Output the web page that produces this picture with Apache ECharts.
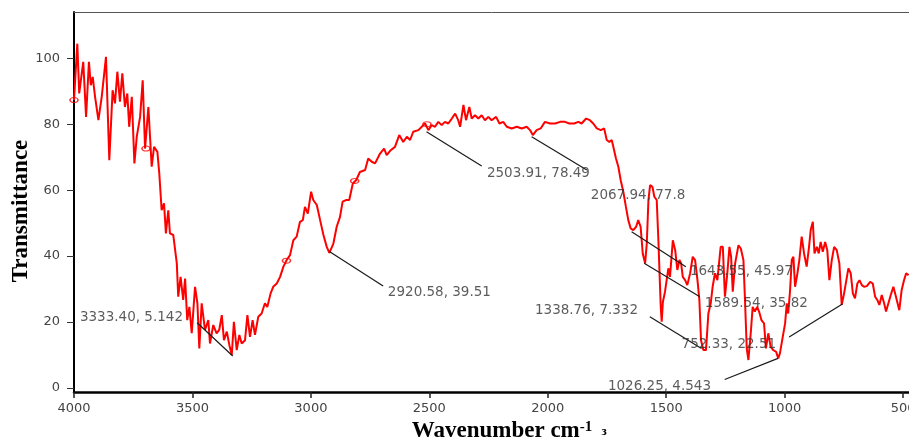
<!DOCTYPE html>
<html>
<head>
<meta charset="utf-8">
<title>FTIR spectrum</title>
<script src="https://cdn.jsdelivr.net/npm/echarts@6/dist/echarts.min.js"></script>
<style>
  html, body { margin: 0; padding: 0; background: #fff; }
  #main { width: 909px; height: 443px; }
</style>
</head>
<body>
<div id="main"></div>
<script>
// spectrum: [wavenumber, transmittance]
var spectrum = [
  [4000,87.3],[3986,104.4],[3978,89.3],[3961,98.9],[3949,82.2],[3937,98.9],[3929,91.8],[3921,94.3],
  [3911,88.3],[3897,81.2],[3883,88.3],[3865,100.4],[3851,69.1],[3837,90.3],[3827,86.3],[3817,95.9],
  [3806,86.8],[3796,95.4],[3785,85.2],[3775,89.3],[3767,79.2],[3756,88.3],[3745,68.1],[3735,76.2],
  [3721,82.2],[3710,93.3],[3700,72.6],[3686,85.2],[3672,67.1],[3662,73.1],[3648,71.6],[3640,65.1],
  [3630,53.9],[3620,56],[3612,46.9],[3602,53.9],[3595,46.9],[3581,46.4],[3566,37.8],[3560,27.7],
  [3550,33.7],[3539,26.7],[3531,33.2],[3522,20.6],[3513,24.6],[3503,16.6],[3489,30.7],[3479,25.7],
  [3471,12],[3461,25.7],[3447,17.6],[3433,20.6],[3426,13.5],[3412,19.1],[3398,16.6],[3387,17.6],
  [3376,22.1],[3367,14.5],[3355,17.1],[3344,13],[3334,10],[3325,20.1],[3313,11.5],[3302,16.1],
  [3292,13.5],[3278,14.5],[3268,22.1],[3257,15.5],
  [3246,20.6],[3236,16.1],[3222,21.6],[3208,22.6],[3194,25.7],[3184,24.6],[3170,28.7],[3159,30.7],
  [3144,31.7],[3130,33.7],[3116,36.8],[3102,38.8],[3088,40.3],[3074,44.8],[3060,45.9],[3046,50.4],
  [3034,50.9],[3025,54.9],[3013,52.9],[2999,59.5],[2990,57],[2975,55.5],[2961,50.9],[2947,46.4],
  [2933,42.8],[2922,41],[2905,43.8],[2891,48.9],[2877,51.9],[2866,56.5],[2852,57],[2838,57],
  [2823,62],[2809,63],[2793,65.5],[2771,66.1],[2758,69.6],[2743,68.6],[2729,68.1],[2708,71.1],
  [2691,72.6],[2680,70.6],[2663,72.1],[2645,73.1],[2627,76.7],[2610,74.6],[2595,76.2],[2581,75.2],
  [2568,77.7],[2546,78.2],
  [2532,79.2],[2518,80.2],[2504,78.2],[2490,79.7],[2476,79.2],[2462,80.7],[2448,79.7],[2434,80.7],
  [2420,80.2],[2405,81.7],[2391,83.2],[2378,81.2],[2370,79.2],[2356,85.8],[2345,81.2],[2331,85.2],
  [2321,81.7],[2307,82.7],[2293,81.7],[2279,82.7],[2265,81.2],[2251,82.2],[2237,81.2],[2218,82.2],
  [2204,80.2],[2188,80.7],[2173,79.2],[2152,78.7],[2131,79.2],[2110,78.7],[2089,79.2],[2075,78.2],
  [2063,76.7],[2047,78.2],[2030,78.7],[2012,80.7],[1990,80.2],[1969,80.2],[1948,80.7],[1927,80.7],
  [1909,80.2],[1889,80.2],[1871,80.7],[1857,80.2],[1838,81.7],[1822,81.2],[1808,80.2],[1793,78.7],
  [1776,78.2],
  [1762,78.7],[1751,75.2],[1740,74.6],[1730,75.2],[1723,73.1],[1712,69.6],[1702,67.1],[1692,63],
  [1681,59.5],[1670,54.9],[1660,50.9],[1650,48.4],[1639,47.9],[1627,48.9],[1618,50.9],[1608,48.9],
  [1599,40.8],[1589,37.8],[1582,43.8],[1575,57],[1568,61.5],[1558,61],[1550,58],[1540,57],
  [1533,44.8],[1523,24.6],[1519,20.1],[1514,26.1],[1505,29.2],[1498,28.7],[1491,36.3],[1484,33.7],
  [1472,44.8],[1462,41.8],[1453,35.8],[1444,38.8],[1437,37.8],[1430,33.7],[1420,32.7],[1411,31.2],
  [1399,34.8],[1388,39.8],[1378,38.8],[1368,32.7],[1360,26.7],[1353,14.5],[1343,11.5],[1332,11.5],
  [1322,22.6],[1312,25.7],[1304,30.7],[1294,34.8],[1284,32.7],[1270,42.8],[1261,42.8],[1252,27.7],
  [1242,34.8],[1233,42.8],[1226,39.8],[1219,29.2],[1209,37.8],[1195,43.3],[1185,42.3],[1174,38.8],
  [1167,26],[1160,12],[1153,8.5],[1142,17.6],[1135,24.6],[1126,23.2],[1116,24.6],[1108,23.2],
  [1098,20.6],[1087,19.6],[1079,12],[1069,16.6],[1059,12.5],[1048,11.5],[1036,11],[1027,9],
  [1020,10.5],[1008,15.5],[998,19.6],[991,25.7],[985,22.6],[977,29.7],[970,38.8],[963,39.8],
  [956,30.7],[946,34.8],[938,38.8],[928,45.9],[918,40.8],[907,36.8],[897,42.8],[890,47.9],
  [881,50.4],[874,40.8],[864,42.8],[856,40.8],[848,44.3],[839,41.3],[829,44.3],[820,41.8],
  [811,32.7],[801,38.8],[791,42.8],[780,41.8],[769,37.8],[759,25.2],[749,28.7],[741,28.2],
  [731,36.3],[721,34.8],[712,28.7],[703,27.2],[693,31.7],[684,32.7],[674,31.2],[665,30.7],
  [653,30.9],[639,32.2],[628,31.7],[618,27.7],[609,26.7],[600,25.2],[590,28.2],[580,25.7],
  [572,23.2],[562,25.7],[552,28.2],[541,30.7],[530,27.7],[516,23.6],[506,29.7],[496,32.7],
  [487,34.8],[477,34.2]
];

// small hollow markers on the trace
var markers = [[4000,87.3],[3696,72.6],[3103,38.6],[2815,62.8],[2510,80]];

// peak labels: text, label anchor (left-middle), leader start, leader end
var labelTexts = ['3333.40, 5.142','2920.58, 39.51','2503.91, 78.49','2067.94, 77.8',
  '1643.55, 45.97','1589.54, 35.82','1338.76, 7.332','752.33, 22.51','1026.25, 4.543'];
var labelAnchors = [[3975,21.5],[2675,29.1],[2257,65.1],[1818,58.3],[1400,35.2],
  [1337,25.7],[2054,23.4],[1435,13.3],[1746,0.4]];
var leaderFrom = [[3480,19.8],[2922,41.4],[2512,77.7],[2068,76.2],[1646,47.4],
  [1593,37.8],[1569,21.6],[981,15.5],[1253,2.6]];
var leaderTo = [[3330,9.7],[2695,30.9],[2279,67.3],[1835,66.1],[1417,36.8],
  [1358,27.7],[1351,12],[756,25.5],[1028,9]];

var xTicks = [4000, 3500, 3000, 2500, 2000, 1500, 1000, 500];
var yTicks = [0, 20, 40, 60, 80, 100];

var chart = echarts.init(document.getElementById('main'));

var labelData = labelTexts.map(function (t, i) {
  return [labelAnchors[i][0], labelAnchors[i][1], t];
});
var leaderData = leaderFrom.map(function (p, i) {
  return { coords: [p, leaderTo[i]] };
});

var option = {
  animation: false,
  backgroundColor: '#fff',
  grid: { left: 74, right: 0, top: 12, bottom: 51, containLabel: false, outerBoundsMode: 'none' },
  xAxis: [{
    type: 'value',
    inverse: true,
    min: 475,
    max: 4000,
    axisLine: { onZero: false, lineStyle: { color: '#000', width: 2.5 } },
    axisTick: { length: 6, customValues: xTicks, lineStyle: { color: '#222', width: 1.5 } },
    axisLabel: {
      customValues: xTicks, margin: 10, color: '#444', fontSize: 13, fontFamily: 'DejaVu Sans',
      formatter: function (v) { return String(v); }
    },
    splitLine: { show: false }
  }, {
    type: 'value',
    position: 'top',
    inverse: true,
    min: 475,
    max: 4000,
    axisLine: { show: true, onZero: false, lineStyle: { color: '#555', width: 1 } },
    axisTick: { show: false },
    axisLabel: { show: false },
    splitLine: { show: false }
  }],
  yAxis: {
    type: 'value',
    min: -1.2,
    max: 114,
    axisLine: { show: true, onZero: false, lineStyle: { color: '#000', width: 2 } },
    axisTick: { show: true, length: 7, customValues: yTicks, lineStyle: { color: '#333', width: 1 } },
    axisLabel: {
      customValues: yTicks, margin: 14, color: '#444', fontSize: 13, fontFamily: 'DejaVu Sans',
      formatter: function (v) { return String(v); }
    },
    splitLine: { show: false }
  },
  series: [
    {
      type: 'line',
      data: spectrum,
      showSymbol: false,
      symbol: 'none',
      lineStyle: { color: '#ff0000', width: 2 },
      z: 3
    },
    {
      type: 'scatter',
      data: markers,
      symbol: 'circle',
      symbolSize: [8, 5],
      itemStyle: { color: 'rgba(0,0,0,0)', borderColor: '#ff0000', borderWidth: 1.3 },
      z: 4
    },
    {
      type: 'lines',
      coordinateSystem: 'cartesian2d',
      data: leaderData,
      symbol: 'none',
      lineStyle: { color: '#1a1a1a', width: 1.2, opacity: 1 },
      z: 5
    },
    {
      type: 'scatter',
      data: labelData,
      symbolSize: 0,
      label: {
        show: true,
        position: 'right',
        distance: 0,
        formatter: function (p) { return p.value[2]; },
        color: '#333',
        fontSize: 13.5,
        fontFamily: 'DejaVu Sans'
      },
      z: 6
    }
  ],
  graphic: [
    {
      type: 'text',
      x: 21,
      y: 211,
      rotation: Math.PI / 2,
      style: {
        text: 'Transmittance',
        font: 'bold 23px "Liberation Serif"',
        fill: '#000',
        textAlign: 'center',
        textVerticalAlign: 'middle'
      }
    },
    {
      type: 'text',
      x: 502,
      y: 431,
      style: {
        text: 'Wavenumber cm{sup|-1}',
        font: 'bold 23px "Liberation Serif"',
        fill: '#000',
        textAlign: 'center',
        textVerticalAlign: 'middle',
        rich: {
          sup: { font: 'bold 15px "Liberation Serif"', fill: '#000', verticalAlign: 'top', padding: [0, 0, 8, 0] }
        }
      }
    },
    {
      type: 'text',
      x: 604,
      y: 432,
      style: {
        text: 'з',
        font: 'bold 13px "Liberation Serif"',
        fill: '#000',
        textAlign: 'center',
        textVerticalAlign: 'middle'
      }
    }
  ]
};

chart.setOption(option);
</script>
</body>
</html>
